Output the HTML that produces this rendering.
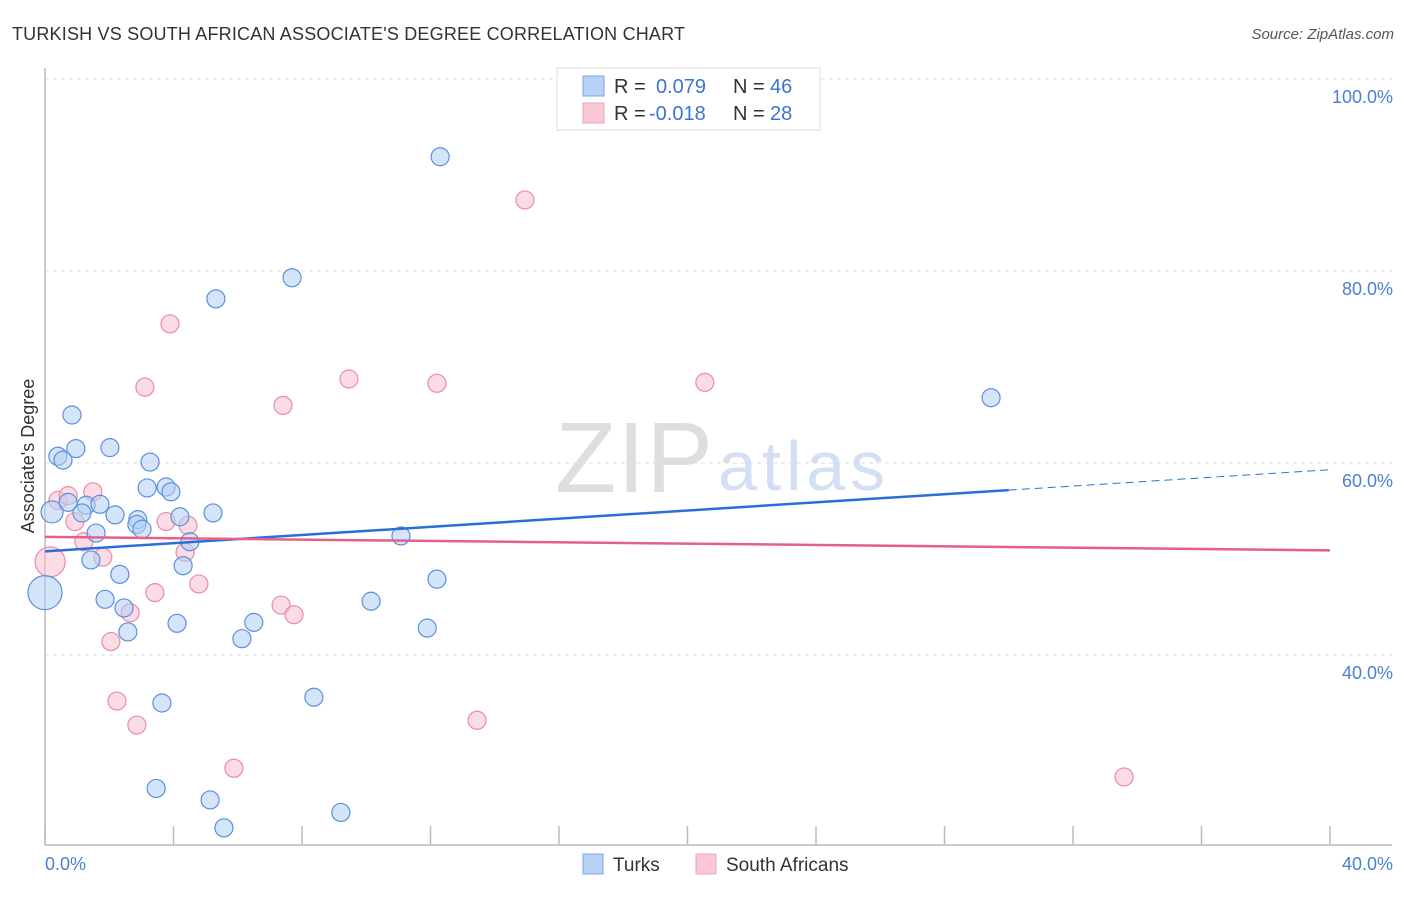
<!DOCTYPE html>
<html><head><meta charset="utf-8"><style>
body{margin:0;background:#fff;font-family:"Liberation Sans",sans-serif}
svg text{font-family:"Liberation Sans",sans-serif}
</style></head><body>
<svg width="1406" height="892" xmlns="http://www.w3.org/2000/svg">
<text x="12" y="40" font-size="18" fill="#333" textLength="673">TURKISH VS SOUTH AFRICAN ASSOCIATE'S DEGREE CORRELATION CHART</text>
<text x="1394" y="39" font-size="15" fill="#555" font-style="italic" text-anchor="end">Source: ZipAtlas.com</text>
<g id="grid"></g>
<text x="555" y="492" font-size="100" fill="#dedede" textLength="158" font-family="Liberation Serif">ZIP</text>
<text x="718" y="490" font-size="70" fill="#d3e0f4" textLength="167">atlas</text>
<g id="marks"></g>
<text transform="translate(34,456) rotate(-90)" font-size="18" fill="#333" text-anchor="middle">Associate's Degree</text>
<text x="45" y="870" font-size="18" fill="#4a7fd6">0.0%</text>
<text x="1393" y="870" font-size="18" fill="#4a7fd6" text-anchor="end">40.0%</text>
<g>
<rect x="557" y="68" width="263" height="62" fill="#fff" stroke="#ddd"/>
<rect x="583" y="76" width="21" height="20" fill="#b8d2f5" stroke="#7aa6e6"/>
<rect x="583" y="103" width="21" height="20" fill="#f9c8d5" stroke="#eba3b8"/>
<g font-size="20">
<text x="614" y="93" fill="#333">R =</text><text x="656" y="93" fill="#3b74d4">0.079</text><text x="733" y="93" fill="#333">N =</text><text x="770" y="93" fill="#3b74d4">46</text></g>
<g font-size="20">
<text x="614" y="120" fill="#333">R =</text><text x="649" y="120" fill="#3b74d4">-0.018</text><text x="733" y="120" fill="#333">N =</text><text x="770" y="120" fill="#3b74d4">28</text></g>
</g>
<g>
<rect x="583" y="854" width="20" height="20" fill="#b8d2f5" stroke="#7aa6e6"/>
<text x="613" y="871" font-size="19" fill="#333">Turks</text>
<rect x="696" y="854" width="20" height="20" fill="#f9c8d5" stroke="#eba3b8"/>
<text x="726" y="871" font-size="19" fill="#333">South Africans</text>
</g>
</svg>
<script>
const yTicks=[40,60,80,100];
const yTickLabels=["40.0%","60.0%","80.0%","100.0%"];
const xTicks=[0,4,8,12,16,20,24,28,32,36,40];
const turksX=[12.3,7.69,5.32,29.45,0.84,0.96,2.02,0.40,0.56,3.27,3.18,3.77,3.92,0.22,0.72,1.28,1.71,1.15,2.18,2.89,2.86,3.02,4.20,5.23,1.59,4.51,11.08,1.43,4.30,2.33,0,12.2,1.87,2.46,10.15,2.58,4.11,6.5,6.13,11.9,8.37,3.64,3.46,5.14,5.57,9.21];
const turksY=[91.9,79.3,77.1,66.8,65.0,61.5,61.6,60.7,60.3,60.1,57.4,57.5,57.0,54.9,55.9,55.6,55.7,54.8,54.6,54.1,53.6,53.1,54.4,54.8,52.7,51.8,52.4,49.9,49.3,48.4,46.5,47.9,45.8,44.9,45.6,42.4,43.3,43.4,41.7,42.8,35.6,35.0,26.1,24.9,22.0,23.6];
const turksSize=[9,9,9,9,9,9,9,9,9,9,9,9,9,11,9,9,9,9,9,9,9,9,9,9,9,9,9,9,9,9,17,9,9,9,9,9,9,9,9,9,9,9,9,9,9,9];
const saX=[14.94,3.89,3.11,9.46,12.2,20.54,7.41,0.40,0.72,1.49,0.93,3.77,4.45,1.21,4.36,1.8,0.16,4.79,3.42,7.35,7.75,2.65,2.05,2.24,2.86,13.45,5.88,33.59];
const saY=[87.4,74.5,67.9,68.75,68.3,68.4,66.0,56.1,56.6,57.0,53.9,53.9,53.5,51.8,50.7,50.2,49.7,47.4,46.5,45.2,44.2,44.4,41.4,35.2,32.7,33.2,28.2,27.3];
const saSize=[9,9,9,9,9,9,9,9,9,9,9,9,9,9,9,9,15,9,9,9,9,9,9,9,9,9,9,9];
const turksTrend=[50.8,59.3];
const saTrend=[52.3,50.9];
const turksSolidEnd=30.0;
const sx=v=>45+v*32.125;
const sy=v=>79+(100-v)*9.6;
const NS="http://www.w3.org/2000/svg";
const grid=document.getElementById('grid'),marks=document.getElementById('marks');
function mk(tag,attrs,parent){const e=document.createElementNS(NS,tag);for(const k in attrs)e.setAttribute(k,attrs[k]);parent.appendChild(e);return e;}
yTicks.forEach((t,i)=>{
 const l=mk('line',{x1:45,x2:1392,y1:sy(t),y2:sy(t),stroke:'#ddd','stroke-dasharray':'4,4'},grid);
 
 
 const tx=mk('text',{x:1393,y:sy(t)+24,'font-size':18,fill:'#4a7fd6','text-anchor':'end'},grid);
 tx.textContent=yTickLabels[i];
 
 
});
const ya=mk('line',{x1:45,x2:45,y1:68,y2:845,stroke:'#bbb','stroke-width':1.5},grid);


const xa=mk('line',{x1:45,x2:1392,y1:845,y2:845,stroke:'#bbb','stroke-width':1.5},grid);


xTicks.forEach(t=>{
 const l=mk('line',{x1:sx(t),x2:sx(t),y1:826,y2:845,stroke:'#bbb','stroke-width':1.5},grid);
 
 
});
function pts(X,Y,S,fill,stroke,name){
 X.forEach((x,i)=>{
  const c=mk('circle',{cx:sx(x),cy:sy(Y[i]),r:S[i],fill:fill,'fill-opacity':0.55,stroke:stroke,'stroke-width':1.2},marks);
  
  
 });
}
pts(saX,saY,saSize,'#f7c0cf','#e88ca8','south-africans-point');
pts(turksX,turksY,turksSize,'#b3cff4','#5a8fdf','turks-point');
const tl=(y0,y1,x)=>y0+(y1-y0)*x/40;
const b1=mk('line',{x1:sx(0),y1:sy(turksTrend[0]),x2:sx(turksSolidEnd),y2:sy(tl(turksTrend[0],turksTrend[1],turksSolidEnd)),stroke:'#2a6fd6','stroke-width':2.5},marks);


const b2=mk('line',{x1:sx(turksSolidEnd),y1:sy(tl(turksTrend[0],turksTrend[1],turksSolidEnd)),x2:sx(40),y2:sy(turksTrend[1]),stroke:'#2a6fd6','stroke-width':1,'stroke-dasharray':'8,5'},marks);


const p1=mk('line',{x1:sx(0),y1:sy(saTrend[0]),x2:sx(40),y2:sy(saTrend[1]),stroke:'#e4608a','stroke-width':2.5},marks);


</script>
</body></html>
